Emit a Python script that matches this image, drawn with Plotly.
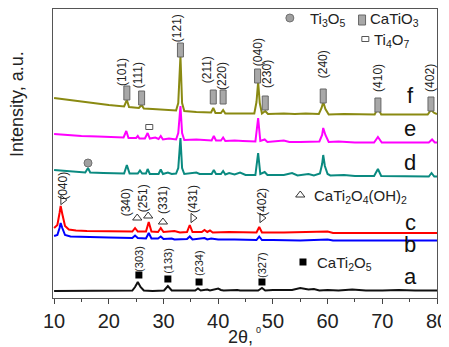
import plotly.graph_objects as go

# ---------------- data (2theta, intensity a.u.) ----------------
a_pts = [(10,7),(12,7),(15,7.5),(18,7),(20,7),(22,7),(24.3,7.5),(24.8,11),(25.3,16),(25.8,11),(26.4,7.5),
         (28,7),(30.1,7.5),(30.8,12),(31.5,7.5),(33,7.5),(35.8,7.5),(36.3,9.5),(36.8,7.5),(38,8.5),(38.5,7.5),
         (40,9.5),(40.5,8),(41,7.5),(43,8.5),(43.5,8),(44,7.5),(47.3,7.5),(48,10),(48.6,7.5),(50,8),(53.5,8),
         (55,10),(56.5,8.5),(57.5,9),(58.5,7.5),(60,8),(62,7.5),(64.5,8.5),(67,7.5),(70,7.5),(73,8),(76,7.5),(80,7.5)]
b_pts = [(10,62),(10.6,63),(11.0,70),(11.2,75),(11.5,70),(12,63),(13,61.5),(15,61),(18,60.5),(20,60.5),(24.3,60),
         (24.8,62.5),(25.3,60),(26.8,59.5),(27.3,65),(27.8,59.5),(29,59.5),(29.5,61.5),(30,59),(31.5,59.5),(32,58.5),
         (34.3,59),(34.8,61.5),(35.3,58.5),(37.5,60),(38,58.5),(38.7,59.5),(40,58.5),(43,58.5),(47,58),(47.5,61.5),
         (48,58),(50,58),(55,57.5),(60,58.5),(61,57.5),(65,57.5),(70,57.5),(75,57.5),(80,57.5)]
c_pts = [(10,70),(10.6,73),(11.0,85),(11.2,92),(11.5,84),(12,72),(12.7,68.5),(14,67.5),(16,67),(18,67),(20,66.5),
         (22,66.5),(24.3,66.5),(24.8,70),(25.3,66.5),(26.8,66.5),(27.3,76),(27.8,66.5),(29,66),(29.5,70),(30,66),
         (32,67),(33,65.5),(34.3,66),(34.8,73),(35.3,66),(37,66),(37.5,68),(38,66),(38.5,67.5),(39,65.5),(42,66),
         (47,65.5),(47.5,71),(48,65.5),(52,65.5),(55,66),(60,66.5),(61,65),(65,65),(70,65),(75,65),(80,65)]
d_pts = [(10,128),(12,127),(14,126),(15.7,125.5),(16.2,130),(16.6,125.5),(19,125),(21,125),(22.8,124.5),(23.3,133),
         (23.8,124.5),(25.3,124.5),(25.7,127.5),(26.1,124.5),(26.8,124.5),(27.1,129),(27.5,124),(29.1,124),(29.5,128.5),
         (29.9,124),(30.8,125.5),(31.5,124),(32.3,124.5),(32.7,130),(33.1,160),(33.4,130),(33.8,124),(36,125.5),
         (36.6,124),(38.8,124),(39.2,128),(39.6,124),(40.5,124),(40.9,127),(41.3,123.5),(42,125),(43,123.5),(44,125.5),
         (45,123),(46.8,123),(47.3,145),(47.7,124),(48.5,126),(49,123),(52,123),(53.5,125),(54.5,122.5),(56.5,124),
         (57.5,122.5),(58.6,124.5),(59.0,134),(59.2,143),(59.5,132),(60,124),(60.5,122.5),(63,123),(65,122),
         (68.5,122),(69.2,129),(69.8,122),(74,121.5),(78.5,121.5),(79.0,125),(79.5,121.5),(80,121.5)]
e_pts = [(10,164),(12,163),(15,162),(18,161.5),(20,161),(22.7,160.5),(23.2,167),(23.6,160),(25,160),(25.3,162),
         (25.6,159.5),(26.6,159.5),(27.1,165),(27.5,159.5),(28.5,160.5),(29.1,159),(29.5,162),(29.9,158.5),(31,159.5),
         (32.3,158.5),(32.7,165),(33.1,192),(33.4,165),(33.8,158),(36,158.5),(38.8,157.5),(39.2,162),(39.6,157.5),
         (40.5,157.5),(40.9,160.5),(41.3,157),(43,157.5),(44.5,157),(46.8,156.5),(47.3,180),(47.7,157),(48.5,158.5),
         (49,156),(52,157.5),(53,156),(55,156),(58.5,156.5),(59.0,163),(59.2,170),(59.6,163),(60.2,156),(62,156.5),
         (65,155.5),(68.5,155.5),(69.2,161),(69.9,155.5),(74,155.5),(78.5,155.5),(79.1,158.5),(79.6,155.5),(80,155.5)]
f_pts = [(10,200),(12,198.5),(15,196),(18,194),(20,193),(22.8,191.5),(23.3,198),(23.7,191),(25.5,190),(26.0,193),
         (26.4,189.5),(28,189),(30,188),(32.3,187.5),(32.7,195),(33.1,242),(33.4,195),(33.8,187),(36,186),(38.7,185.5),
         (39.1,190),(39.5,185),(40.5,185),(40.9,188),(41.3,184.5),(44,184.5),(46.6,184.5),(47.0,196),(47.3,216),
         (47.6,195),(48,184.5),(48.6,187),(49.1,184),(52,184.5),(54,184),(56,184.5),(58.4,184),(58.9,190),(59.2,196),
         (59.6,189),(60.2,183.5),(63,184),(66,183.5),(68.6,183.5),(69.2,190),(69.8,183.5),(73,183.5),(78.3,183.5),
         (78.9,188),(79.5,185),(80,184)]

series_names = ["a", "b", "c", "d", "e", "f"]
series_pts = [a_pts, b_pts, c_pts, d_pts, e_pts, f_pts]
series_colors = ["#111111", "#0000ff", "#ff0000", "#0a8a80", "#ff00ff", "#8a8a12"]
series_label_y = [22, 54, 76, 136, 170, 203]
series_label_x = 75.1

# CaTiO3 reflections (f)
cto_hkl = ["(101)", "(111)", "(121)", "(211)", "(220)", "(040)", "(230)", "(240)", "(410)", "(402)"]
cto_x = [23.3, 26.0, 33.1, 39.1, 40.9, 47.2, 48.6, 59.2, 69.2, 78.9]
cto_y = [205, 200, 248, 201, 201, 222, 195, 202, 193, 194]
cto_lx = [22.4, 25.4, 32.5, 38.0, 40.7, 47.3, 48.9, 59.2, 69.2, 78.7]
cto_ly = [226, 223, 270, 228, 222, 246, 224, 234, 220, 220]

# CaTi2O4(OH)2 reflections (c)
cto_oh_hkl = ["(040)", "(340)", "(251)", "(331)", "(431)", "(402)"]
cto_oh_lx = [11.6, 23.2, 26.3, 29.9, 35.4, 48.0]
cto_oh_ly = [112, 96, 100, 98, 99, 96]
cto_oh_mx = [11.6, 25.2, 27.2, 29.9, 35.4, 48.0]
cto_oh_my = [98, 80, 82, 76, 80, 80]
cto_oh_sym = ["triangle-right-open", "triangle-up-open", "triangle-up-open", "triangle-up-open",
              "triangle-right-open", "triangle-right-open"]

# CaTi2O5 reflections (a)
ct2o5_hkl = ["(303)", "(133)", "(234)", "(327)"]
ct2o5_x = [25.5, 30.8, 36.5, 48.0]
ct2o5_my = [23, 19, 16, 16]
ct2o5_ly = [39, 37, 35, 33]

# Ti3O5 (d) and Ti4O7 (e)
ti3o5_x, ti3o5_y = [16.2], [135]
ti4o7_x, ti4o7_y = [27.4], [171]

x_ticks = [10, 20, 30, 40, 50, 60, 70, 80]

# ---------------- figure ----------------
fig = go.Figure()
for name, pts, col in zip(series_names, series_pts, series_colors):
    fig.add_trace(go.Scatter(x=[p[0] for p in pts], y=[p[1] for p in pts], mode="lines",
                             line=dict(color=col, width=2), name=name, showlegend=False, hoverinfo="skip"))

# CaTi2O4(OH)2 triangles
for mx, my, sym in zip(cto_oh_mx, cto_oh_my, cto_oh_sym):
    fig.add_trace(go.Scatter(x=[mx], y=[my], mode="markers", showlegend=False, hoverinfo="skip",
                             marker=dict(symbol=sym, size=8, color="#333", line=dict(width=1, color="#333"))))
# CaTi2O5 squares
fig.add_trace(go.Scatter(x=ct2o5_x, y=ct2o5_my, mode="markers", showlegend=False, hoverinfo="skip",
                         marker=dict(symbol="square", size=7, color="#000")))
# Ti3O5 circle
fig.add_trace(go.Scatter(x=ti3o5_x, y=ti3o5_y, mode="markers", showlegend=False, hoverinfo="skip",
                         marker=dict(symbol="circle", size=8, color="#a0a0a0", line=dict(width=1, color="#707070"))))

# legend glyphs
leg_font = dict(family="Liberation Sans, Arial", size=15, color="#222")
fig.add_trace(go.Scatter(x=[53.1], y=[280], mode="markers", showlegend=False, hoverinfo="skip",
                         marker=dict(symbol="circle", size=8, color="#a0a0a0", line=dict(width=1, color="#707070"))))
fig.add_trace(go.Scatter(x=[55.0], y=[103], mode="markers", showlegend=False, hoverinfo="skip",
                         marker=dict(symbol="triangle-up-open", size=8, color="#333", line=dict(width=1))))
fig.add_trace(go.Scatter(x=[55.5], y=[36], mode="markers", showlegend=False, hoverinfo="skip",
                         marker=dict(symbol="square", size=7, color="#000")))

shapes = []
for x, y in zip(cto_x, cto_y):
    shapes.append(dict(type="rect", xref="x", yref="y", xsizemode="pixel", ysizemode="pixel",
                       xanchor=x, yanchor=y, x0=-3, x1=3, y0=-7, y1=7,
                       fillcolor="#a8a8a8", line=dict(color="#666", width=1)))
# legend CaTiO3 glyph
shapes.append(dict(type="rect", xref="x", yref="y", xsizemode="pixel", ysizemode="pixel",
                   xanchor=66.3, yanchor=278, x0=-3.5, x1=3.5, y0=-5, y1=5,
                   fillcolor="#a8a8a8", line=dict(color="#666", width=1)))
# Ti4O7 open squares (on e and legend)
for x, y in zip(ti4o7_x + [66.9], ti4o7_y + [259]):
    shapes.append(dict(type="rect", xref="x", yref="y", xsizemode="pixel", ysizemode="pixel",
                       xanchor=x, yanchor=y, x0=-3.5, x1=3.5, y0=-2.5, y1=2.5,
                       fillcolor="white", line=dict(color="#555", width=1)))

ann = []
hkl_font = dict(family="Liberation Sans, Arial", size=12, color="#222")
for t, x, y in zip(cto_hkl, cto_lx, cto_ly):
    ann.append(dict(x=x, y=y, text=t, textangle=-90, showarrow=False, font=hkl_font))
for t, x, y in zip(cto_oh_hkl, cto_oh_lx, cto_oh_ly):
    ann.append(dict(x=x, y=y, text=t, textangle=-90, showarrow=False, font=hkl_font))
for t, x, y in zip(ct2o5_hkl, ct2o5_x, ct2o5_ly):
    ann.append(dict(x=x, y=y, text=t, textangle=-90, showarrow=False,
                    font=dict(family="Liberation Sans, Arial", size=11, color="#222")))
for n, y in zip(series_names, series_label_y):
    ann.append(dict(x=series_label_x, y=y, text=n, showarrow=False,
                    font=dict(family="Liberation Sans, Arial", size=22, color="#111")))
# legend texts
ann += [
    dict(x=56.4, y=279, text="Ti<sub>3</sub>O<sub>5</sub>", xanchor="left", showarrow=False, font=leg_font),
    dict(x=67.4, y=279, text="CaTiO<sub>3</sub>", xanchor="left", showarrow=False, font=leg_font),
    dict(x=68.1, y=258, text="Ti<sub>4</sub>O<sub>7</sub>", xanchor="left", showarrow=False, font=leg_font),
    dict(x=57.2, y=102, text="CaTi<sub>2</sub>O<sub>4</sub>(OH)<sub>2</sub>", xanchor="left", showarrow=False, font=leg_font),
    dict(x=57.7, y=35, text="CaTi<sub>2</sub>O<sub>5</sub>", xanchor="left", showarrow=False, font=leg_font),
]
# axis titles
ann.append(dict(xref="paper", yref="paper", x=-0.094, y=0.671, xanchor="center", yanchor="middle",
                text="Intensity, a.u.", textangle=-90,
                showarrow=False, font=dict(family="Liberation Sans, Arial", size=18, color="#222")))
ann.append(dict(xref="paper", yref="paper", x=0.487, y=-0.136, xanchor="center", yanchor="middle", text="2θ,",
                showarrow=False, borderpad=0, font=dict(family="Liberation Sans, Arial", size=18, color="#222")))
ann.append(dict(xref="paper", yref="paper", x=0.536, y=-0.11, xanchor="center", yanchor="middle", text="0",
                showarrow=False, borderpad=0, font=dict(family="Liberation Sans, Arial", size=9, color="#222")))

# the page body adds an 8 px margin, so the figure is sized/offset to compensate
fig.update_layout(
    width=441, height=339, margin=dict(l=45, r=12, t=1, b=49),
    paper_bgcolor="white", plot_bgcolor="white",
    shapes=shapes, annotations=ann,
    xaxis=dict(range=[9.8, 80.0], tickvals=x_ticks, ticktext=[str(t) for t in x_ticks],
               ticks="outside", ticklen=5, tickcolor="#444", showline=True, linecolor="#555", linewidth=1,
               mirror=True, showgrid=False, zeroline=False,
               tickfont=dict(family="Liberation Sans, Arial", size=20, color="#222"),
               minor=dict(dtick=5, tick0=10, ticks="outside", ticklen=3, tickcolor="#444")),
    yaxis=dict(range=[0, 289], showticklabels=False, ticks="", showline=True, linecolor="#555", linewidth=1,
               mirror=True, showgrid=False, zeroline=False),
)
fig.write_html("out.html")
